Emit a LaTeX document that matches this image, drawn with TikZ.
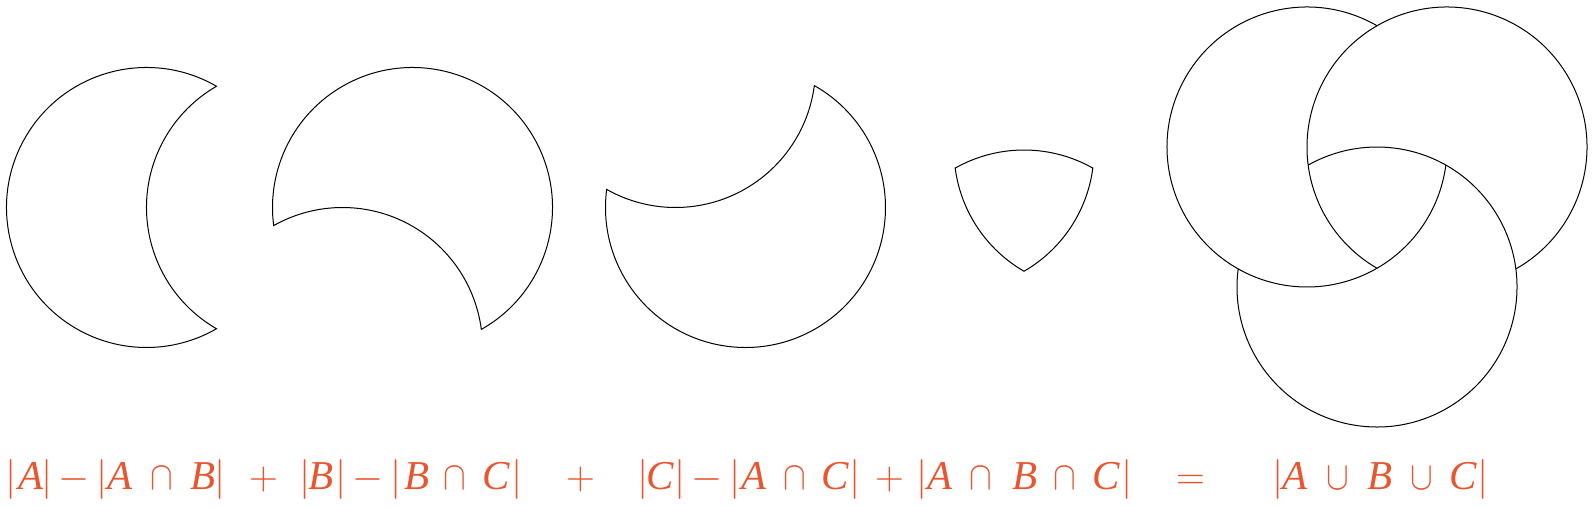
\RequirePackage{fix-cm}
\documentclass[tikz,border=0pt]{standalone}
\usepackage{fontspec}
\setmainfont{Liberation Serif}
\usepackage{graphicx}
\definecolor{eqcol}{RGB}{233,85,47}
\newcommand{\capsym}{\scalebox{0.85}[1]{$\cap$}}
\newcommand{\cupsym}{\scalebox{0.85}[1]{$\cup$}}
\newcommand{\barsym}{\makebox[0pt]{$|$}}
\tikzset{
  outl/.style={draw=black, line width=1pt, line join=miter},
  tok/.style={anchor=base, inner sep=0pt, outer sep=0pt, text=eqcol},
  ltr/.style={tok, font=\fontsize{41}{41}\selectfont\itshape},
  opr/.style={tok, font=\fontsize{40}{40}\selectfont},
  setop/.style={tok, font=\fontsize{40}{40}\selectfont},
  vbar/.style={tok, font=\fontsize{40}{40}\selectfont},
}
\begin{document}
\begin{tikzpicture}[x=1pt,y=1pt]
\fill[white] (0,0) rectangle (1595,507);
\useasboundingbox (0,0) rectangle (1595,507);
% centres
\coordinate (A1) at (146.5,299.5);
\coordinate (B2) at (412.5,299.5);
\coordinate (C3) at (745.5,299.5);
\coordinate (C4) at (1024,217);
\coordinate (A4) at (954,357);
\coordinate (A5) at (1307,360);
\coordinate (B5) at (1447,360);
\coordinate (C5) at (1377,220);
% |A| - |A cap B|
\draw[outl] ([shift={(60:140)}]A1) arc[start angle=60,end angle=300,radius=140]
  arc[start angle=240,end angle=120,radius=140] -- cycle;
% |B| - |B cap C|
\draw[outl] ([shift={(-60.5547:140)}]B2) arc[start angle=-60.5547,end angle=187.4227,radius=140]
  arc[start angle=119.4453,end angle=7.4227,radius=140] -- cycle;
% |C| - |A cap C|
\draw[outl] ([shift={(172.5773:140)}]C3) arc[start angle=172.5773,end angle=420.5547,radius=140]
  arc[start angle=-7.4227,end angle=-119.4453,radius=140] -- cycle;
% A cap B cap C
\draw[outl] ([shift={(119.4453:140)}]C4) arc[start angle=119.4453,end angle=60.5547,radius=140]
  arc[start angle=-7.4227,end angle=-60,radius=140]
  arc[start angle=240,end angle=187.4227,radius=140] -- cycle;
% union
\draw[outl] ([shift={(60:140)}]A5) arc[start angle=60,end angle=352.5773,radius=140];
\draw[outl] ([shift={(-60.5547:140)}]B5) arc[start angle=-60.5547,end angle=240,radius=140];
\draw[outl] ([shift={(172.5773:140)}]C5) arc[start angle=172.5773,end angle=479.4453,radius=140];
% formula
\node[vbar]  (t1)  at (11.4,18) {\barsym};
\node[ltr]   (t2)  at (31,18) {A};
\node[vbar]  (t3)  at (47,18) {\barsym};
\node[opr]   (t4)  at (74.5,18) {$-$};
\node[vbar]  (t5)  at (102.3,18) {\barsym};
\node[ltr]   (t6)  at (120,18) {A};
\node[setop] (t7)  at (161.7,18) {\capsym};
\node[ltr]   (t8)  at (203.2,18) {B};
\node[vbar]  (t9)  at (220.5,18) {\barsym};
\node[opr]   (t10) at (263.5,18) {$+$};
\node[vbar]  (t11) at (305,18) {\barsym};
\node[ltr]   (t12) at (320.7,18) {B};
\node[vbar]  (t13) at (341,18) {\barsym};
\node[opr]   (t14) at (368,18) {$-$};
\node[vbar]  (t15) at (396,18) {\barsym};
\node[ltr]   (t16) at (417.2,18) {B};
\node[setop] (t17) at (455,18) {\capsym};
\node[ltr]   (t18) at (496,18) {C};
\node[vbar]  (t19) at (517,18) {\barsym};
\node[opr]   (t20) at (580.5,18) {$+$};
\node[vbar]  (t21) at (643,18) {\barsym};
\node[ltr]   (t22) at (660.5,18) {C};
\node[vbar]  (t23) at (680,18) {\barsym};
\node[opr]   (t24) at (707.5,18) {$-$};
\node[vbar]  (t25) at (735,18) {\barsym};
\node[ltr]   (t26) at (754,18) {A};
\node[setop] (t27) at (794.5,18) {\capsym};
\node[ltr]   (t28) at (835.5,18) {C};
\node[vbar]  (t29) at (855,18) {\barsym};
\node[opr]   (t30) at (889.5,18) {$+$};
\node[vbar]  (t31) at (922,18) {\barsym};
\node[ltr]   (t32) at (940,18) {A};
\node[setop] (t33) at (980.5,18) {\capsym};
\node[ltr]   (t34) at (1025.2,18) {B};
\node[setop] (t35) at (1065,18) {\capsym};
\node[ltr]   (t36) at (1106.5,18) {C};
\node[vbar]  (t37) at (1127,18) {\barsym};
\node[opr]   (t38) at (1190.5,18) {$=$};
\node[vbar]  (t39) at (1278.3,18) {\barsym};
\node[ltr]   (t40) at (1295,18) {A};
\node[setop] (t41) at (1337.8,18) {\cupsym};
\node[ltr]   (t42) at (1379.7,18) {B};
\node[setop] (t43) at (1421.5,18) {\cupsym};
\node[ltr]   (t44) at (1463.5,18) {C};
\node[vbar]  (t45) at (1483,18) {\barsym};
\end{tikzpicture}
\end{document}
